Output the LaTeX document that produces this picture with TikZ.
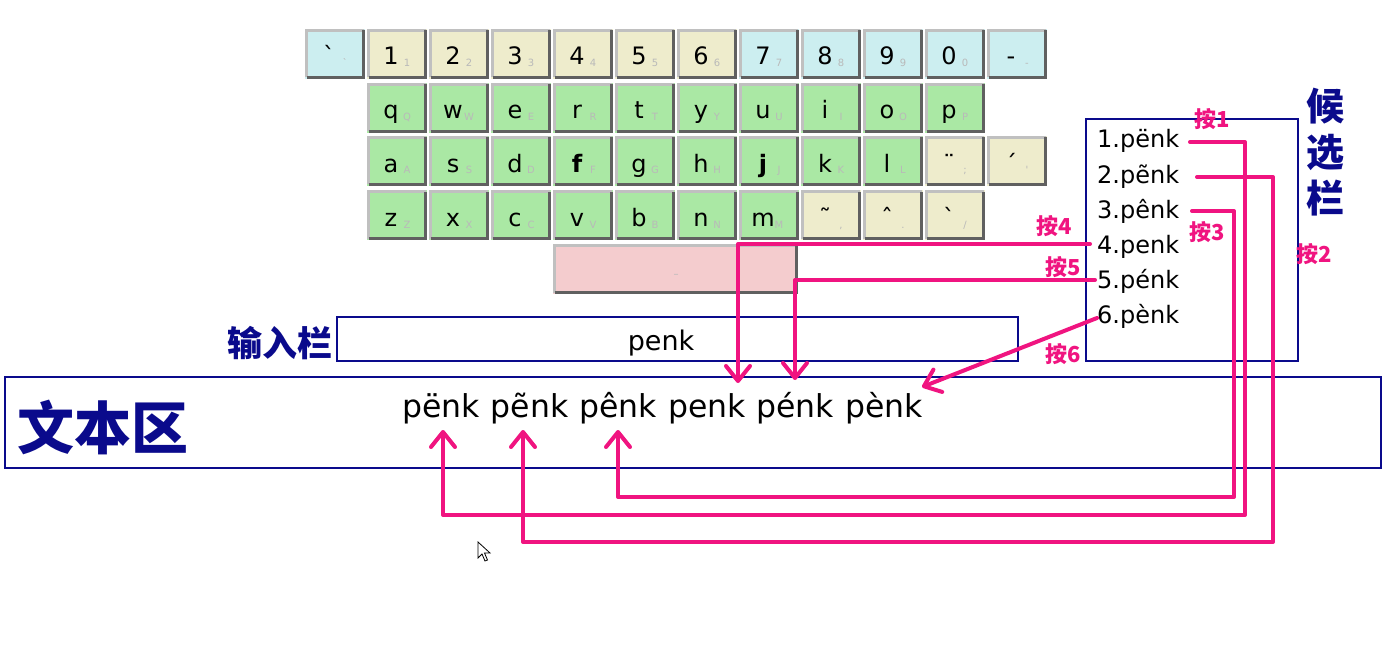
\documentclass[tikz,border=0pt]{standalone}
\usepackage{fontspec}
\setmainfont{DejaVu Sans}
\newfontfamily\rawfont{DejaVu Sans}
\newfontfamily\cjk{Noto Sans CJK SC}
\usetikzlibrary{arrows.meta}
\definecolor{lblnavy}{RGB}{10,10,140}
\definecolor{mag}{RGB}{240,20,128}
\definecolor{kcyan}{RGB}{204,238,240}
\definecolor{kcream}{RGB}{238,236,204}
\definecolor{kgreen}{RGB}{170,232,164}
\definecolor{kpink}{RGB}{244,204,206}
\definecolor{klight}{RGB}{192,192,192}
\definecolor{kdark}{RGB}{96,96,96}
\definecolor{ksub}{RGB}{185,185,185}
\tikzset{
  keylight/.style={draw=klight,line width=3pt},
  keydark/.style={draw=kdark,line width=3pt},
  keytxt/.style={anchor=base,inner sep=0pt,font=\fontsize{24}{24}\selectfont},
  subtxt/.style={anchor=base,inner sep=0pt,text=ksub,font=\fontsize{10}{10}\selectfont},
  boxst/.style={draw=lblnavy,line width=2pt,inner sep=0pt},
  cand/.style={anchor=base west,inner sep=0pt,font=\fontsize{24}{24}\selectfont},
  word/.style={anchor=base west,inner sep=0pt,font=\fontsize{31.5}{31.5}\selectfont},
  lbl/.style={inner sep=0pt,text=lblnavy,font=\cjk\bfseries},
  presslbl/.style={inner sep=0pt,text=mag,font=\cjk\bfseries\fontsize{22}{22}\selectfont},
  arr/.style={draw=mag,line width=4pt,line cap=round,line join=round,
    -{Straight Barb[length=15pt,width=24pt,line cap=round,line join=round]}},
}
\newcommand\kbkey[7]{%
  \begin{scope}[shift={(#2,#3)}]
    \path[fill=#5] (0,0) rectangle (#4,50);
    \draw[keylight] (1.5,48.5) -- (1.5,1.5) -- ({#4-1.5},1.5);
    \draw[keydark] (1.5,48.5) -- ({#4-1.5},48.5) -- ({#4-1.5},1.5);
    \node[keytxt] (#1) at (24,36) {#6};
    \node[subtxt] (#1s) at (40,38) {#7};
  \end{scope}}
\begin{document}
\begin{tikzpicture}[x=1pt,y=-1pt]
\useasboundingbox (0,0) rectangle (1396,647);
\fill[white] (0,0) rectangle (1396,647);

% ---- keyboard row 0
\kbkey{kgrave}{305}{29}{60}{kcyan}{\rawfont`}{\rawfont`}
\kbkey{k1}{367}{29}{60}{kcream}{1}{1}
\kbkey{k2}{429}{29}{60}{kcream}{2}{2}
\kbkey{k3}{491}{29}{60}{kcream}{3}{3}
\kbkey{k4}{553}{29}{60}{kcream}{4}{4}
\kbkey{k5}{615}{29}{60}{kcream}{5}{5}
\kbkey{k6}{677}{29}{60}{kcream}{6}{6}
\kbkey{k7}{739}{29}{60}{kcyan}{7}{7}
\kbkey{k8}{801}{29}{60}{kcyan}{8}{8}
\kbkey{k9}{863}{29}{60}{kcyan}{9}{9}
\kbkey{k0}{925}{29}{60}{kcyan}{0}{0}
\kbkey{kminus}{987}{29}{60}{kcyan}{-}{-}
% ---- row 1
\kbkey{kq}{367}{83}{60}{kgreen}{q}{Q}
\kbkey{kw}{429}{83}{60}{kgreen}{w}{W}
\kbkey{ke}{491}{83}{60}{kgreen}{e}{E}
\kbkey{kr}{553}{83}{60}{kgreen}{r}{R}
\kbkey{kt}{615}{83}{60}{kgreen}{t}{T}
\kbkey{ky}{677}{83}{60}{kgreen}{y}{Y}
\kbkey{ku}{739}{83}{60}{kgreen}{u}{U}
\kbkey{ki}{801}{83}{60}{kgreen}{i}{I}
\kbkey{ko}{863}{83}{60}{kgreen}{o}{O}
\kbkey{kp}{925}{83}{60}{kgreen}{p}{P}
% ---- row 2
\kbkey{ka}{367}{136}{60}{kgreen}{a}{A}
\kbkey{ks}{429}{136}{60}{kgreen}{s}{S}
\kbkey{kd}{491}{136}{60}{kgreen}{d}{D}
\kbkey{kf}{553}{136}{60}{kgreen}{\bfseries f}{F}
\kbkey{kg}{615}{136}{60}{kgreen}{g}{G}
\kbkey{kh}{677}{136}{60}{kgreen}{h}{H}
\kbkey{kj}{739}{136}{60}{kgreen}{\bfseries j}{J}
\kbkey{kk}{801}{136}{60}{kgreen}{k}{K}
\kbkey{kl}{863}{136}{60}{kgreen}{l}{L}
\kbkey{kdiaer}{925}{136}{60}{kcream}{¨}{;}
\kbkey{kacute}{987}{136}{60}{kcream}{´}{\rawfont'}
% ---- row 3
\kbkey{kz}{367}{190}{60}{kgreen}{z}{Z}
\kbkey{kx}{429}{190}{60}{kgreen}{x}{X}
\kbkey{kc}{491}{190}{60}{kgreen}{c}{C}
\kbkey{kv}{553}{190}{60}{kgreen}{v}{V}
\kbkey{kb}{615}{190}{60}{kgreen}{b}{B}
\kbkey{kn}{677}{190}{60}{kgreen}{n}{N}
\kbkey{km}{739}{190}{60}{kgreen}{m}{M}
\kbkey{ktilde}{801}{190}{60}{kcream}{˜}{,}
\kbkey{kcirc}{863}{190}{60}{kcream}{ˆ}{.}
\kbkey{kgrave2}{925}{190}{60}{kcream}{\rawfont`}{/}
% ---- space bar
\kbkey{kspace}{553}{244}{245}{kpink}{}{}
\node[subtxt,anchor=center] (kspsub) at (676,276) {–};

% ---- boxes
\node[boxst,minimum width=1376pt,minimum height=91pt] (textarea) at (693,422.5) {};
\node[boxst,minimum width=681pt,minimum height=44pt] (inputbar) at (677.5,339) {};
\node[boxst,minimum width=212pt,minimum height=242pt] (candbar) at (1192,240) {};

% ---- labels
\node[lbl,font=\cjk\bfseries\fontsize{57}{57}\selectfont] (lblText) at (103,427) {文本区};
\node[lbl,font=\cjk\bfseries\fontsize{35}{35}\selectfont] (lblInput) at (280,343) {输入栏};
\node[lbl,font=\cjk\bfseries\fontsize{38}{38}\selectfont] (lblC1) at (1325,106) {候};
\node[lbl,font=\cjk\bfseries\fontsize{38}{38}\selectfont] (lblC2) at (1325,152) {选};
\node[lbl,font=\cjk\bfseries\fontsize{38}{38}\selectfont] (lblC3) at (1325,198) {栏};

% ---- input text
\node[anchor=base,inner sep=0pt,font=\fontsize{27}{27}\selectfont] (inputtxt) at (661,350) {penk};

% ---- candidates
\node[cand] (c1) at (1097,148) {1.pënk};
\node[cand] (c2) at (1097,183) {2.pẽnk};
\node[cand] (c3) at (1097,218) {3.pênk};
\node[cand] (c4) at (1097,253) {4.penk};
\node[cand] (c5) at (1097,288) {5.pénk};
\node[cand] (c6) at (1097,323) {6.pènk};

% ---- words in text area
\node[word] (w1) at (402,417) {pënk};
\node[word] (w2) at (490.6,417) {pẽnk};
\node[word] (w3) at (579.2,417) {pênk};
\node[word] (w4) at (667.8,417) {penk};
\node[word] (w5) at (756.4,417) {pénk};
\node[word] (w6) at (845,417) {pènk};

% ---- press labels
\node[presslbl] (p1) at (1212,119) {按1};
\node[presslbl] (p2) at (1314,254) {按2};
\node[presslbl] (p3) at (1207,232) {按3};
\node[presslbl] (p4) at (1054,226) {按4};
\node[presslbl] (p5) at (1063,267) {按5};
\node[presslbl] (p6) at (1063,354) {按6};

% ---- connector coordinates
\coordinate (s1) at (1190,142);
\coordinate (s2) at (1197,177);
\coordinate (s3) at (1192,211);
\coordinate (s4) at (1090,244);
\coordinate (s5) at (1095,280);
\coordinate (s6) at (1097,318);
\coordinate (r1) at (1245,515);
\coordinate (r2) at (1273,542);
\coordinate (r3) at (1234,497);
\coordinate (t1) at (443,430);
\coordinate (t2) at (523,430);
\coordinate (t3) at (618,430);
\coordinate (t4) at (738,383);
\coordinate (t5) at (795,380);
\coordinate (t6) at (922,387);

\draw[arr] (s1) -| (r1) -| (t1);
\draw[arr] (s2) -| (r2) -| (t2);
\draw[arr] (s3) -| (r3) -| (t3);
\draw[arr] (s4) -| (t4);
\draw[arr] (s5) -| (t5);
\draw[arr] (s6) -- (t6);

% ---- mouse cursor
\draw[black,fill=white,line width=0.8pt,line join=miter]
  (478,542) -- (478,558) -- (482,554) -- (485,561) -- (487.5,560) -- (484.5,553) -- (490,553) -- cycle;
\end{tikzpicture}
\end{document}
